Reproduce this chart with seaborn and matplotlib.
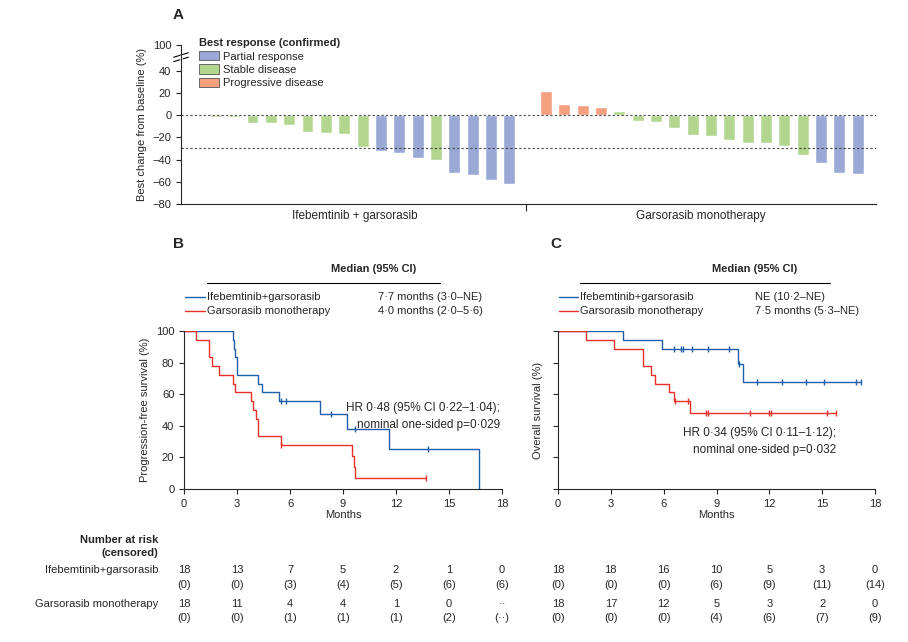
import numpy as np
import pandas as pd
import matplotlib
matplotlib.use("Agg")
import matplotlib.pyplot as plt
import seaborn as sns
from matplotlib.patches import Patch

sns.set_style("ticks")
plt.rcParams['font.family'] = ['Liberation Sans', 'DejaVu Sans']
plt.rcParams['font.size'] = 8
plt.rcParams['xtick.labelsize'] = 8
plt.rcParams['ytick.labelsize'] = 8

# ---- panel A data
combo_change = [-2, -2, -7, -7, -9, -15, -16, -17, -29, -32, -34, -39, -40, -52, -54, -58, -62]
combo_resp = ['SD'] * 9 + ['PR'] * 3 + ['SD'] + ['PR'] * 4
mono_change = [22, 10, 9, 7, 4, -5, -6, -12, -18, -19, -22, -25, -25, -28, -36, -43, -52, -53]
mono_resp = ['PD'] * 4 + ['SD'] * 11 + ['PR'] * 3
resp_names = {'PR': 'Partial response', 'SD': 'Stable disease', 'PD': 'Progressive disease'}
resp_colors = {'PR': '#9aa8d6', 'SD': '#b3d68f', 'PD': '#f4a07f'}

# ---- panel B (PFS) step data
pfs_combo_t = [0, 2.8, 2.85, 2.9, 3.0, 4.2, 4.4, 5.4, 7.7, 9.2, 11.6, 16.7]
pfs_combo_s = [100, 94.4, 88.9, 83.3, 72.2, 66.7, 61.1, 55.6, 47.6, 38.1, 25.4, 0]
pfs_combo_ct = [5.5, 5.8, 8.3, 9.7, 13.8]
pfs_combo_cs = [55.6, 55.6, 47.6, 38.1, 25.4]
pfs_mono_t = [0, 0.7, 1.4, 1.6, 2.0, 2.8, 2.9, 3.8, 3.9, 4.1, 4.2, 5.5, 9.5, 9.6, 9.7, 13.7]
pfs_mono_s = [100, 94.4, 83.3, 77.8, 72.2, 66.7, 61.1, 55.6, 50.0, 44.4, 33.3, 27.8, 20.8, 13.9, 6.9, 6.9]
pfs_mono_ct = [5.5, 13.7]
pfs_mono_cs = [27.8, 6.9]

# ---- panel C (OS) step data
os_combo_t = [0, 3.7, 5.9, 10.2, 10.5, 17.2]
os_combo_s = [100, 94.4, 88.9, 79.4, 67.8, 67.8]
os_combo_ct = [6.6, 7.0, 7.1, 7.6, 8.5, 9.7, 10.3, 11.3, 12.7, 14.1, 15.1, 16.9, 17.2]
os_combo_cs = [88.9] * 6 + [79.4] + [67.8] * 6
os_mono_t = [0, 1.6, 3.2, 4.8, 5.3, 5.5, 6.3, 6.6, 7.5, 15.8]
os_mono_s = [100, 94.4, 88.9, 77.8, 72.2, 66.7, 61.1, 55.6, 48.4, 48.4]
os_mono_ct = [6.65, 7.4, 8.4, 8.5, 10.9, 12.0, 12.1, 15.3, 15.8]
os_mono_cs = [55.6, 55.6] + [48.4] * 7

risk_months = [0, 3, 6, 9, 12, 15, 18]
pfs_risk_combo = ['18', '13', '7', '5', '2', '1', '0']
pfs_cens_combo = ['(0)', '(0)', '(3)', '(4)', '(5)', '(6)', '(6)']
pfs_risk_mono = ['18', '11', '4', '4', '1', '0', '··']
pfs_cens_mono = ['(0)', '(0)', '(1)', '(1)', '(1)', '(2)', '(··)']
os_risk_combo = ['18', '18', '16', '10', '5', '3', '0']
os_cens_combo = ['(0)', '(0)', '(0)', '(6)', '(9)', '(11)', '(14)']
os_risk_mono = ['18', '17', '12', '5', '3', '2', '0']
os_cens_mono = ['(0)', '(0)', '(0)', '(4)', '(6)', '(7)', '(9)']

BLUE = '#1f5fa8'
RED = '#e8302a'
W, H = 908, 642
fig = plt.figure(figsize=(W / 100, H / 100), dpi=100)


def px_axes(l, t, r, b):
    return fig.add_axes([l / W, 1 - b / H, (r - l) / W, (b - t) / H])


def ftext(x, y, s, **kw):
    fig.text(x / W, 1 - y / H, s, **kw)


def fline(x0, x1, y, color='k', lw=0.8):
    fig.add_artist(plt.Line2D([x0 / W, x1 / W], [1 - y / H, 1 - y / H], color=color, lw=lw))


# ---------------- panel A
axA = px_axes(181, 45, 876, 204)
pos = list(range(len(combo_change))) + [18 + i for i in range(len(mono_change))]
dfA = pd.DataFrame({'pos': pos, 'change': combo_change + mono_change,
                    'resp': [resp_names[r] for r in combo_resp + mono_resp]})
sns.barplot(data=dfA, x='pos', y='change', hue='resp', native_scale=True, dodge=False,
            palette={resp_names[k]: v for k, v in resp_colors.items()}, width=0.65,
            saturation=1, legend=False, ax=axA)
axA.axhline(0, color='#444', ls=(0, (2, 2)), lw=0.8)
axA.axhline(-30, color='#444', ls=(0, (2, 2)), lw=0.8)
axA.set_xlim(-1.9, 36)
axA.set_ylim(-80, 63)
axA.set_yticks([-80, -60, -40, -20, 0, 20, 40, 63])
axA.set_yticklabels(['−80', '−60', '−40', '−20', '0', '20', '40', '100'])
axA.set_xticks([16.9])
axA.set_xticklabels([])
axA.tick_params(axis='x', length=5)
axA.spines['left'].set_bounds(-80, 63)
axA.spines[['top', 'right']].set_visible(False)
axA.set_xlabel('')
axA.set_ylabel('Best change from baseline (%)', fontsize=8)
# axis break marks
for yb in (50, 54):
    axA.plot([-2.3, -1.5], [yb - 2, yb + 2], color='k', lw=0.8, clip_on=False)
axA.plot([-1.9, -1.9], [50.5, 53.5], color='white', lw=2, clip_on=False)
handles = [Patch(facecolor=resp_colors[k], edgecolor='#555', lw=0.6, label=resp_names[k])
           for k in ('PR', 'SD', 'PD')]
leg = axA.legend(handles=handles, title='Best response (confirmed)', loc='upper left',
                 bbox_to_anchor=(0.015, 1.09), frameon=False, fontsize=8,
                 handlelength=1.8, handleheight=0.9, labelspacing=0.25, borderpad=0.2,
                 handletextpad=0.3)
leg.get_title().set_fontweight('bold')
leg.get_title().set_fontsize(8)
leg._legend_box.align = 'left'
ftext(355, 216, 'Ifebemtinib + garsorasib', ha='center', va='center', fontsize=8.5)
ftext(701, 216, 'Garsorasib monotherapy', ha='center', va='center', fontsize=8.5)
ftext(178, 15, 'A', fontsize=11, fontweight='bold', ha='center', va='center')


# ---------------- panels B, C
def km(ax, t, s, ct, cs, color):
    d = pd.DataFrame({'t': t, 's': s})
    sns.lineplot(data=d, x='t', y='s', drawstyle='steps-post', color=color, lw=1.0,
                 ax=ax, estimator=None)
    ax.plot(ct, cs, ls='none', marker='|', ms=5, mew=1.0, color=color)


axB = px_axes(184, 331, 502, 489)
km(axB, pfs_combo_t, pfs_combo_s, pfs_combo_ct, pfs_combo_cs, BLUE)
km(axB, pfs_mono_t, pfs_mono_s, pfs_mono_ct, pfs_mono_cs, RED)
axB.set_ylabel('Progression-free survival (%)', fontsize=8)
axB.text(17.9, 46, 'HR 0·48 (95% CI 0·22–1·04);\nnominal one-sided p=0·029',
         ha='right', va='center', fontsize=8.5, linespacing=1.5)

axC = px_axes(558, 331, 875, 489)
km(axC, os_combo_t, os_combo_s, os_combo_ct, os_combo_cs, BLUE)
km(axC, os_mono_t, os_mono_s, os_mono_ct, os_mono_cs, RED)
axC.set_ylabel('Overall survival (%)', fontsize=8)
axC.set_yticklabels([])
axC.text(15.8, 30, 'HR 0·34 (95% CI 0·11–1·12);\nnominal one-sided p=0·032',
         ha='right', va='center', fontsize=8.5, linespacing=1.5)

for ax in (axB, axC):
    ax.set_xlim(0, 18)
    ax.set_ylim(0, 100)
    ax.set_xticks(risk_months)
    ax.set_yticks([0, 20, 40, 60, 80, 100])
    ax.set_xlabel('Months', fontsize=8, labelpad=1)
    ax.spines[['top', 'right']].set_visible(False)

ftext(178, 244, 'B', fontsize=11, fontweight='bold', ha='center', va='center')
ftext(556, 244, 'C', fontsize=11, fontweight='bold', ha='center', va='center')

# median boxes
for x0, lineL, lineR, valx, meds in (
        (185, 207, 440, 378, ('7·7 months (3·0–NE)', '4·0 months (2·0–5·6)')),
        (559, 580, 830, 755, ('NE (10·2–NE)', '7·5 months (5·3–NE)'))):
    ftext((lineL + lineR) / 2 + 50, 269, 'Median (95% CI)', fontweight='bold', ha='center',
          va='center', fontsize=8)
    fline(lineL, lineR, 283)
    for yy, name, col, med in ((297, 'Ifebemtinib+garsorasib', BLUE, meds[0]),
                               (311, 'Garsorasib monotherapy', RED, meds[1])):
        fline(x0, lineL - 2, yy, color=col, lw=1.0)
        ftext(lineL, yy, name, va='center', fontsize=8)
        ftext(valx, yy, med, va='center', fontsize=8)

# number at risk table
ftext(158, 540, 'Number at risk', fontweight='bold', ha='right', va='center', fontsize=8)
ftext(158, 553, '(censored)', fontweight='bold', ha='right', va='center', fontsize=8)
ftext(158, 570, 'Ifebemtinib+garsorasib', ha='right', va='center', fontsize=8)
ftext(158, 604, 'Garsorasib monotherapy', ha='right', va='center', fontsize=8)
for left, right, rows in ((184, 502, (pfs_risk_combo, pfs_cens_combo, pfs_risk_mono, pfs_cens_mono)),
                          (558, 875, (os_risk_combo, os_cens_combo, os_risk_mono, os_cens_mono))):
    for m, a, b, c, d in zip(risk_months, *rows):
        x = left + (right - left) * m / 18
        for yy, s in ((570, a), (585, b), (604, c), (618, d)):
            ftext(x, yy, s, ha='center', va='center', fontsize=8)

fig.savefig('out.png', dpi=100)
